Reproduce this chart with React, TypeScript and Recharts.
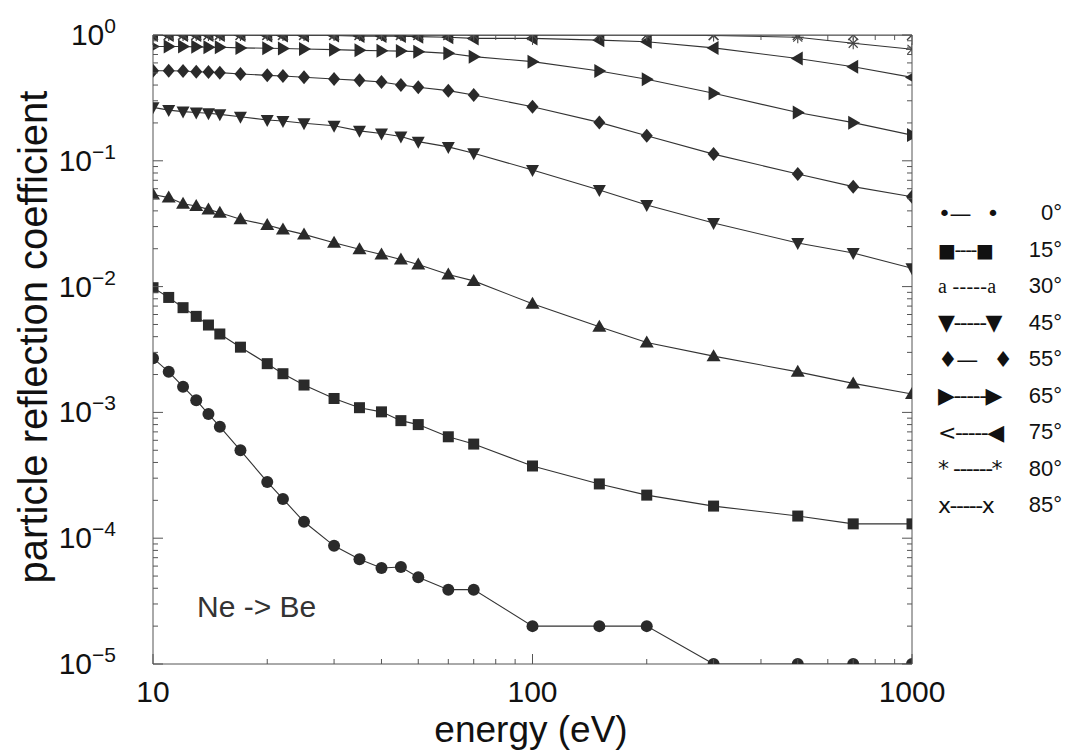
import React from "react";
import { LineChart, Line, XAxis, YAxis, Label } from "recharts";

document.body.style.margin = "0";

// incident energy (eV)
const energies = [10, 11, 12, 13, 14, 15, 17, 20, 22, 25, 30, 35, 40, 45, 50, 60, 70, 100, 150, 200, 300, 500, 700, 1000];

// particle reflection coefficient per incidence angle
const r0 = [2.7e-3, 2.1e-3, 1.6e-3, 1.25e-3, 9.7e-4, 7.7e-4, 5.0e-4, 2.8e-4, 2.05e-4, 1.35e-4, 8.7e-5, 6.8e-5, 5.8e-5, 5.9e-5, 4.9e-5, 3.9e-5, 3.9e-5, 2.0e-5, 2.0e-5, 2.0e-5, 1e-5, 1e-5, 1e-5, 1e-5];
const r15 = [9.8e-3, 8.2e-3, 6.8e-3, 5.8e-3, 4.95e-3, 4.2e-3, 3.3e-3, 2.44e-3, 2.03e-3, 1.65e-3, 1.29e-3, 1.09e-3, 1.01e-3, 8.6e-4, 8.0e-4, 6.4e-4, 5.6e-4, 3.75e-4, 2.7e-4, 2.2e-4, 1.8e-4, 1.5e-4, 1.3e-4, 1.3e-4];
const r30 = [0.054, 0.051, 0.0456, 0.0437, 0.0411, 0.0387, 0.0343, 0.0309, 0.0285, 0.026, 0.0223, 0.0198, 0.018, 0.0164, 0.015, 0.0125, 0.0111, 0.0073, 0.0048, 0.0036, 0.0028, 0.0021, 0.0017, 0.0014];
const r45 = [0.266, 0.253, 0.246, 0.242, 0.239, 0.234, 0.224, 0.211, 0.207, 0.199, 0.19, 0.173, 0.165, 0.156, 0.142, 0.129, 0.115, 0.0845, 0.0586, 0.0445, 0.032, 0.0222, 0.0185, 0.014];
const r55 = [0.52, 0.52, 0.518, 0.511, 0.508, 0.502, 0.49, 0.478, 0.472, 0.461, 0.447, 0.436, 0.423, 0.4, 0.384, 0.361, 0.333, 0.269, 0.202, 0.158, 0.113, 0.0785, 0.0623, 0.0518];
const r65 = [0.81, 0.81, 0.81, 0.805, 0.8, 0.8, 0.79, 0.785, 0.78, 0.775, 0.765, 0.755, 0.75, 0.745, 0.737, 0.715, 0.673, 0.614, 0.518, 0.445, 0.344, 0.242, 0.201, 0.16];
const r75 = [1, 1, 1, 1, 1, 1, 1, 0.99, 0.99, 0.99, 0.99, 0.98, 0.98, 0.98, 0.97, 0.96, 0.94, 0.94, 0.91, 0.885, 0.79, 0.65, 0.56, 0.46];
const r80 = [1, 1, 1, 1, 1, 1, 1, 1, 1, 1, 1, 1, 1, 1, 1, 1, 1, 1, 1, 1, 0.99, 0.96, 0.86, 0.77];
const r85 = [1, 1, 1, 1, 1, 1, 1, 1, 1, 1, 1, 1, 1, 1, 1, 1, 1, 1, 1, 1, 1, 1, 1, 1];

const xMajor = [10, 100, 1000];
const yMajor = [1e-5, 1e-4, 1e-3, 1e-2, 1e-1, 1];
const yExponents = ["\u22125", "\u22124", "\u22123", "\u22122", "\u22121", "0"];

const legendSymbols = ["\u2022\u2014\u00a0\u00a0\u00a0\u2022", "\u25a0----\u25a0", "a\u00a0-----a", "\u25bc-----\u25bc", "\u2666\u2014\u00a0\u00a0\u00a0\u2666", "\u25b6-----\u25b6", "<-----\u25c0", "*\u00a0------*", "x-----x"];
const legendLabels = ["0\u00b0", "15\u00b0", "30\u00b0", "45\u00b0", "55\u00b0", "65\u00b0", "75\u00b0", "80\u00b0", "85\u00b0"];

const series = [
  { key: "a0", values: r0, shape: "circle" },
  { key: "a15", values: r15, shape: "square" },
  { key: "a30", values: r30, shape: "up" },
  { key: "a45", values: r45, shape: "down" },
  { key: "a55", values: r55, shape: "diamond" },
  { key: "a65", values: r65, shape: "right" },
  { key: "a75", values: r75, shape: "left" },
  { key: "a80", values: r80, shape: "star" },
  { key: "a85", values: r85, shape: "cross" },
];

const data = energies.map((e, i) => {
  const row: any = { e };
  series.forEach((s) => (row[s.key] = s.values[i]));
  return row;
});

// minor tick positions for the log axes
const xTicks: number[] = [];
for (let d = 10; d < 1000; d *= 10) for (let k = 1; k < 10; k++) xTicks.push(k * d);
xTicks.push(1000);
const yTicks: number[] = [];
for (let p = -5; p < 0; p++) for (let k = 1; k < 10; k++) yTicks.push(k * Math.pow(10, p));
yTicks.push(1);

const FONT = "'Liberation Sans', Arial, Helvetica, sans-serif";
const INK = "#2a2a2a";
const AXIS = "#555";

const isMajor = (v: number) => Math.abs(Math.log10(v) - Math.round(Math.log10(v))) < 1e-6;

const makeDot = (shape: string) => (props: any) => {
  const { cx, cy, index } = props;
  const k = `${shape}-${index}`;
  if (cx == null || cy == null) return <g key={k} />;
  switch (shape) {
    case "circle":
      return <circle key={k} cx={cx} cy={cy} r={6} fill={INK} />;
    case "square":
      return <rect key={k} x={cx - 5.5} y={cy - 5.5} width={11} height={11} fill={INK} />;
    case "up":
      return <polygon key={k} points={`${cx},${cy - 7} ${cx + 7},${cy + 5} ${cx - 7},${cy + 5}`} fill={INK} />;
    case "down":
      return <polygon key={k} points={`${cx},${cy + 7} ${cx + 6.5},${cy - 5} ${cx - 6.5},${cy - 5}`} fill={INK} />;
    case "diamond":
      return <polygon key={k} points={`${cx},${cy - 7} ${cx + 6},${cy} ${cx},${cy + 7} ${cx - 6},${cy}`} fill={INK} />;
    case "right":
      return <polygon key={k} points={`${cx + 7},${cy} ${cx - 5},${cy - 7} ${cx - 5},${cy + 7}`} fill={INK} />;
    case "left":
      return <polygon key={k} points={`${cx - 7},${cy} ${cx + 5},${cy - 7} ${cx + 5},${cy + 7}`} fill={INK} />;
    case "star":
      return (
        <g key={k} stroke="#444" strokeWidth={1.1}>
          <line x1={cx - 6} y1={cy} x2={cx + 6} y2={cy} />
          <line x1={cx} y1={cy - 6} x2={cx} y2={cy + 6} />
          <line x1={cx - 4.5} y1={cy - 4.5} x2={cx + 4.5} y2={cy + 4.5} />
          <line x1={cx - 4.5} y1={cy + 4.5} x2={cx + 4.5} y2={cy - 4.5} />
        </g>
      );
    default:
      return (
        <g key={k} stroke="#444" strokeWidth={1.3}>
          <line x1={cx - 5} y1={cy - 5} x2={cx + 5} y2={cy + 5} />
          <line x1={cx - 5} y1={cy + 5} x2={cx + 5} y2={cy - 5} />
        </g>
      );
  }
};

const BottomTick = ({ x, y, payload }: any) => {
  const v = payload.value;
  const major = xMajor.includes(v);
  return (
    <g>
      <line x1={x} x2={x} y1={y} y2={y - (major ? 10 : 5)} stroke={AXIS} />
      {major && (
        <text x={x} y={y + 38} textAnchor="middle" fontSize={30} fontFamily={FONT} fill="#111">
          {v}
        </text>
      )}
    </g>
  );
};

const TopTick = ({ x, y, payload }: any) => {
  const major = xMajor.includes(payload.value);
  return <line x1={x} x2={x} y1={y} y2={y + (major ? 10 : 5)} stroke={AXIS} />;
};

const LeftTick = ({ x, y, payload }: any) => {
  const v = payload.value;
  const major = isMajor(v);
  const idx = yMajor.findIndex((m) => Math.abs(Math.log10(m) - Math.log10(v)) < 1e-6);
  return (
    <g>
      <line x1={x} x2={x + (major ? 10 : 5)} y1={y} y2={y} stroke={AXIS} />
      {major && idx >= 0 && (
        <text x={x - 37} y={y + 10} textAnchor="end" fontSize={30} fontFamily={FONT} fill="#111">
          10
          <tspan dy={-12} fontSize={21}>
            {yExponents[idx]}
          </tspan>
        </text>
      )}
    </g>
  );
};

const RightTick = ({ x, y, payload }: any) => {
  const major = isMajor(payload.value);
  return <line x1={x} x2={x - (major ? 10 : 5)} y1={y} y2={y} stroke={AXIS} />;
};

export default function App() {
  return (
    <div style={{ position: "relative", width: 1068, height: 752, background: "#fff" }}>
      <LineChart width={1068} height={752} data={data} margin={{ top: 30, right: 146, bottom: 0, left: 0 }}>
        <XAxis
          xAxisId="b"
          dataKey="e"
          type="number"
          scale="log"
          domain={[10, 1000]}
          allowDataOverflow
          ticks={xTicks}
          interval={0}
          height={88}
          tickSize={0}
          tickMargin={0}
          tickLine={false}
          tick={<BottomTick />}
          axisLine={{ stroke: AXIS }}
        >
          <Label
            content={() => (
              <text x={531} y={742} textAnchor="middle" fontSize={37} fontFamily={FONT} fill="#111">
                energy (eV)
              </text>
            )}
          />
        </XAxis>
        <XAxis
          xAxisId="t"
          orientation="top"
          dataKey="e"
          type="number"
          scale="log"
          domain={[10, 1000]}
          allowDataOverflow
          ticks={xTicks}
          interval={0}
          height={5}
          tickSize={0}
          tickMargin={0}
          tickLine={false}
          tick={<TopTick />}
          axisLine={{ stroke: AXIS }}
        />
        <YAxis
          yAxisId="l"
          type="number"
          scale="log"
          domain={[1e-5, 1]}
          allowDataOverflow
          ticks={yTicks}
          interval={0}
          width={153}
          tickSize={0}
          tickMargin={0}
          tickLine={false}
          tick={<LeftTick />}
          axisLine={{ stroke: AXIS }}
        >
          <Label
            content={() => (
              <text
                transform="translate(47,337) rotate(-90)"
                textAnchor="middle"
                fontSize={40}
                fontFamily={FONT}
                fill="#111"
              >
                particle reflection coefficient
              </text>
            )}
          />
        </YAxis>
        <YAxis
          yAxisId="r"
          orientation="right"
          type="number"
          scale="log"
          domain={[1e-5, 1]}
          allowDataOverflow
          ticks={yTicks}
          interval={0}
          width={10}
          tickSize={0}
          tickMargin={0}
          tickLine={false}
          tick={<RightTick />}
          axisLine={{ stroke: AXIS }}
        />
        {series.map((s) => (
          <Line
            key={s.key}
            xAxisId="b"
            yAxisId="l"
            dataKey={s.key}
            type="linear"
            stroke="#333"
            strokeWidth={1.1}
            dot={makeDot(s.shape)}
            activeDot={false}
            isAnimationActive={false}
          />
        ))}
      </LineChart>
      <div
        style={{
          position: "absolute",
          left: 197,
          top: 590,
          fontFamily: FONT,
          fontSize: 30,
          color: "#333",
          whiteSpace: "nowrap",
        }}
      >
        Ne -&gt; Be
      </div>
      <div style={{ position: "absolute", left: 938, top: 195, fontFamily: FONT, color: "#111" }}>
        {legendLabels.map((lab, i) => (
          <div key={lab} style={{ display: "flex", alignItems: "center", height: 36.5, whiteSpace: "nowrap" }}>
            <span
              style={{
                display: "inline-block",
                width: 82,
                fontSize: i === 2 ? 20 : i === 1 ? 19 : 22,
                fontFamily: i === 2 ? "'Liberation Serif', serif" : "'DejaVu Sans', sans-serif",
                letterSpacing: i === 2 ? 0.3 : -1.5,
              }}
            >
              {legendSymbols[i]}
            </span>
            <span style={{ display: "inline-block", width: 42, textAlign: "right", fontSize: 22 }}>{lab}</span>
          </div>
        ))}
      </div>
    </div>
  );
}
